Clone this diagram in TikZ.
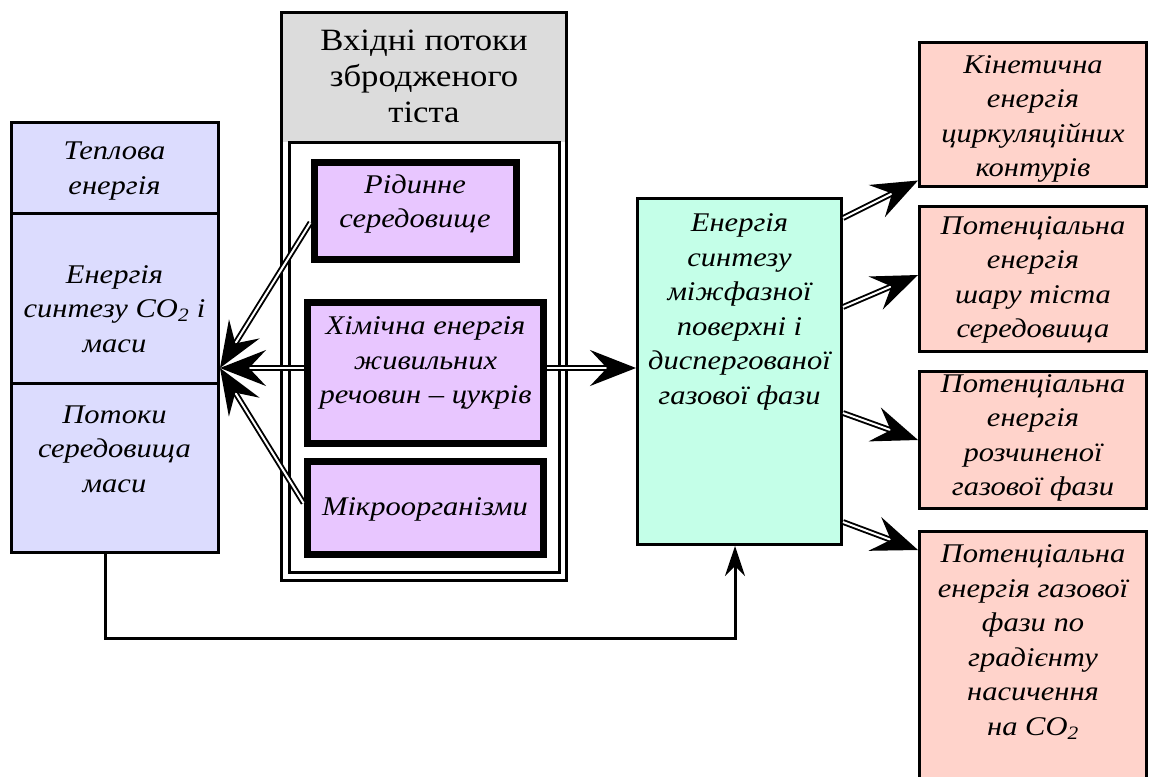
\documentclass[tikz,border=0pt]{standalone}
\usepackage{fontspec}
\setmainfont{Liberation Serif}
\newfontfamily\boxfont[FakeStretch=1.13]{Liberation Serif}
\newfontfamily\headfont[FakeStretch=1.12]{Liberation Serif}
\usetikzlibrary{arrows.meta,calc}
\definecolor{lav}{HTML}{DCDCFE}
\definecolor{greybg}{HTML}{DCDCDC}
\definecolor{lilac}{HTML}{E8C6FF}
\definecolor{mint}{HTML}{C4FFE8}
\definecolor{peach}{HTML}{FFD3CB}
\begin{document}
\begin{tikzpicture}[x=1pt,y=-1pt,
  box/.style={draw=black, line width=3pt, inner sep=0pt, outer sep=0pt, anchor=north west},
  thickbox/.style={box, line width=7pt, fill=lilac},
  lbl/.style={font=\boxfont\fontsize{27}{34.5}\selectfont\itshape, align=center, inner sep=0pt, text=black},
  ttl/.style={font=\headfont\fontsize{31}{36}\selectfont, align=center, inner sep=0pt, text=black},
  flow/.style={draw=black, double=white, double distance=2pt, line width=1.9pt,
    -{Stealth[length=46pt,width=36pt,inset=17pt]}},
  link/.style={draw=black, line width=3pt, line join=miter,
    -{Stealth[length=30pt,width=20pt,inset=10pt]}}
]
\clip (0,0) rectangle (1150,776);
\fill[white] (0,0) rectangle (1150,776);

% left column: three stacked sections
\node[box, fill=lav, minimum width=207, minimum height=91]  (lb1) at (11,122) {};
\node[box, fill=lav, minimum width=207, minimum height=170] (lb2) at (11,213) {};
\node[box, fill=lav, minimum width=207, minimum height=169] (lb3) at (11,383) {};

% container of the input flows
\node[box, fill=white, minimum width=285, minimum height=567] (outer) at (281,13) {};
\fill[greybg] (282.5,14.5) rectangle (564.5,142);
\node[box, fill=white, minimum width=270, minimum height=430] (inner) at (289,142) {};

% input flows
\node[thickbox, minimum width=202, minimum height=97]  (rid) at (314,162) {};
\node[thickbox, minimum width=236, minimum height=141] (him) at (307.5,302.5) {};
\node[thickbox, minimum width=236, minimum height=93]  (mik) at (307,461) {};

% central block
\node[box, fill=mint, minimum width=204, minimum height=346] (green) at (637.5,198.5) {};

% output energies
\node[box, fill=peach, minimum width=227, minimum height=144] (p1) at (919.5,42.5) {};
\node[box, fill=peach, minimum width=227, minimum height=145] (p2) at (919.5,206.5) {};
\node[box, fill=peach, minimum width=227, minimum height=137] (p3) at (919.5,371.5) {};
\node[box, fill=peach, minimum width=227, minimum height=300] (p4) at (919.5,531.5) {};

% texts
\node[lbl] (t1) at (114.5,171) {Теплова\\енергія};
\node[lbl] (t2) at (114.5,309) {Енергія\\синтезу CO\textsubscript{2} і\\маси};
\node[lbl] (t3) at (114.5,449) {Потоки\\середовища\\маси};
\node[ttl] (tt) at (424,76) {Вхідні потоки\\збродженого\\тіста};
\node[lbl] (trid) at (415,204) {Рідинне\\середовище};
\node[lbl] (thim) at (425.5,363) {Хімічна енергія\\живильних\\речовин – цукрів};
\node[lbl] (tmik) at (425,509) {Мікроорганізми};
\node[lbl] (tgr) at (739.5,312) {Енергія\\синтезу\\міжфазної\\поверхні і\\диспергованої\\газової фази};
\node[lbl] (tp1) at (1033,119) {Кінетична\\енергія\\циркуляційних\\контурів};
\node[lbl] (tp2) at (1033,280) {Потенціальна\\енергія\\шару тіста\\середовища};
\node[lbl] (tp3) at (1033,438) {Потенціальна\\енергія\\розчиненої\\газової фази};
\node[lbl] (tp4) at (1033,642) {Потенціальна\\енергія газової\\фази по\\градієнту\\насичення\\на CO\textsubscript{2}};

% flows into the left column
\coordinate (hub) at ($(lb2.south east)+(2,-15)$);
\draw[flow] ($(rid.west)+(-3.5,12)$) -- (hub);
\draw[flow] ($(him.west)+(-3.5,-5)$) -- (hub);
\draw[flow] ($(mik.west)+(-3.5,-4.5)$) -- (hub);

% flow into the central block
\draw[flow] ($(him.east)+(3.5,-5)$) -- ($(green.west)+(-1.5,-3.5)$);

% flows out of the central block
\draw[flow] ($(green.north east)+(1.5,19.5)$)  -- ($(p1.south west)+(-1.5,-6)$);
\draw[flow] ($(green.north east)+(1.5,108.5)$) -- ($(p2.west)+(-1.5,-4)$);
\draw[flow] ($(green.north east)+(1.5,214.5)$) -- ($(p3.west)+(-1.5,0)$);
\draw[flow] ($(green.north east)+(1.5,323.5)$) -- ($(p4.north west)+(-1.5,18.5)$);

% return link along the bottom
\coordinate (c1) at ($(lb3.south)+(-9.5,0)$);
\coordinate (c2) at ($(green.south)+(-4.5,1.5)$);
\draw[link] (c1) -- ++(0,86) -| (c2);
\end{tikzpicture}
\end{document}
